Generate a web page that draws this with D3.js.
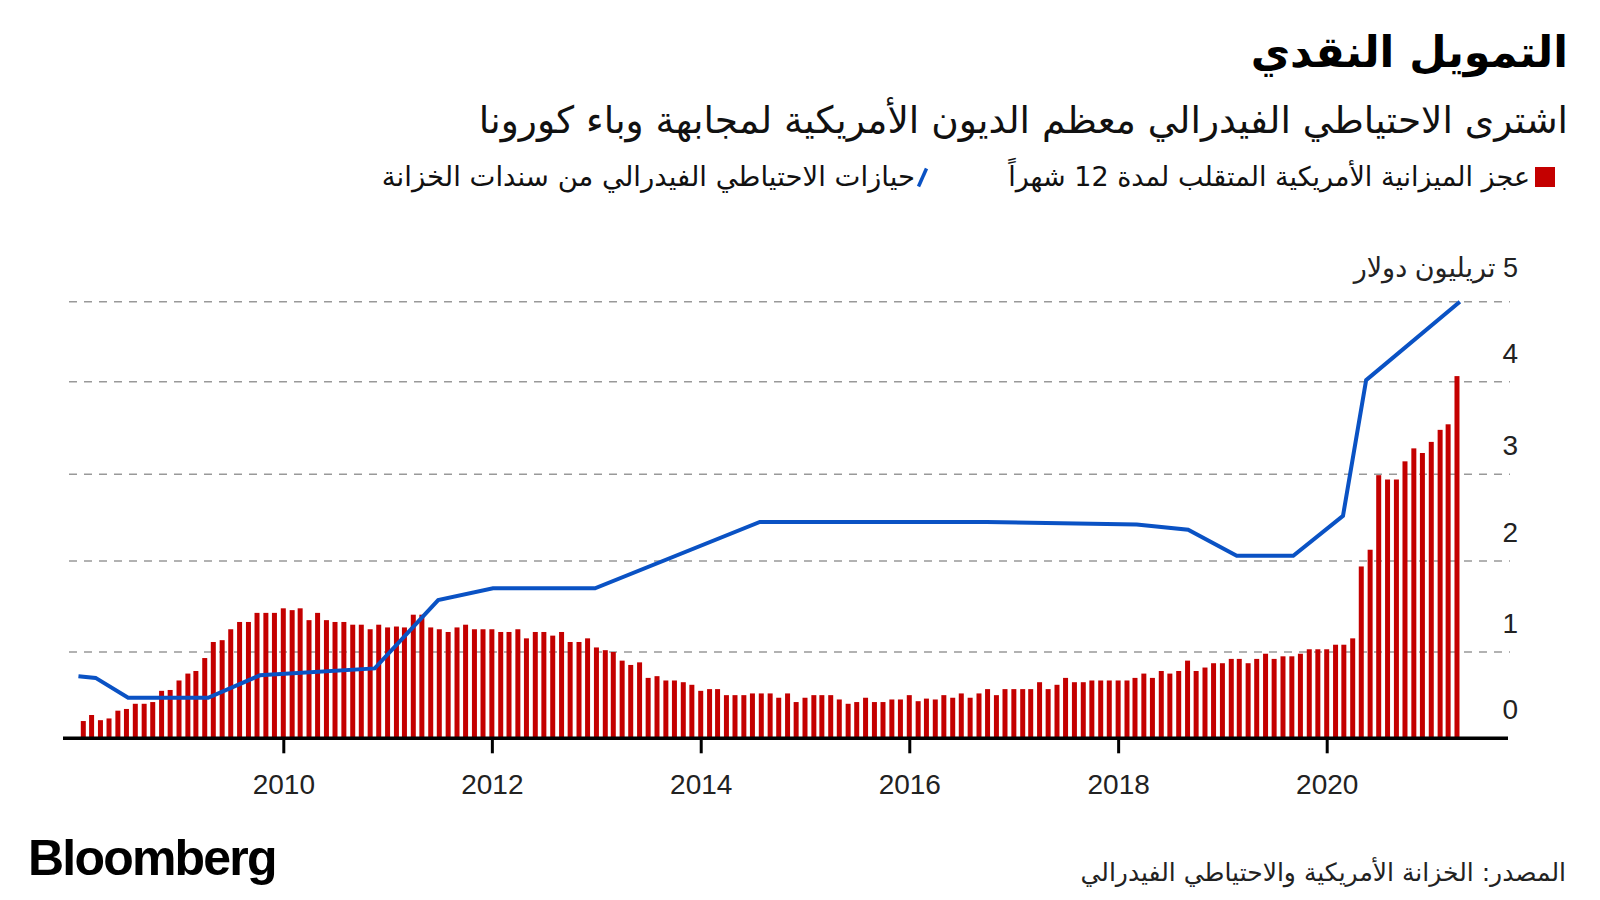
<!DOCTYPE html>
<html>
<head>
<meta charset="utf-8">
<script src="https://cdn.jsdelivr.net/npm/d3@7"></script>
<style>
  html, body { margin: 0; padding: 0; background: #fff; }
  svg { display: block; }
  .ar { font-family: "DejaVu Sans", sans-serif; direction: rtl; }
</style>
</head>
<body>
<svg id="chart" width="1600" height="900"></svg>
<script>
// ---------------- DATA ----------------
const title = "التمويل النقدي";
const subtitle = "اشترى الاحتياطي الفيدرالي معظم الديون الأمريكية لمجابهة وباء كورونا";
const legendDeficit = "عجز الميزانية الأمريكية المتقلب لمدة 12 شهراً";
const legendHoldings = "حيازات الاحتياطي الفيدرالي من سندات الخزانة";
const yUnitLabel = "5 تريليون دولار";
const sourceText = "المصدر: الخزانة الأمريكية والاحتياطي الفيدرالي";
const brand = "Bloomberg";

// Monthly bars, Jan 2008 .. Mar 2021 (trillion USD, rolling 12-month deficit)
const firstMonth = "2008-01-01";
const deficit = [
  0.20,0.27,0.21,0.23,0.32,0.34,0.40,0.40,0.42,0.55,0.56,0.67,
  0.75,0.78,0.93,1.11,1.13,1.25,1.33,1.33,1.43,1.43,1.43,1.48,
  1.46,1.48,1.35,1.43,1.35,1.33,1.33,1.30,1.30,1.25,1.30,1.27,
  1.28,1.27,1.41,1.41,1.27,1.25,1.22,
  1.27,1.30,1.25,1.25,1.25,1.22,1.22,1.25,1.15,1.22,1.22,1.18,1.22,
  1.11,1.11,1.15,1.05,1.02,1.00,0.90,0.85,0.88,0.70,0.72,0.67,0.67,
  0.65,0.62,0.55,0.57,0.57,0.50,0.50,0.50,0.52,0.52,0.52,0.47,0.52,0.42,
  0.47,0.50,0.50,0.50,0.45,0.40,0.42,0.47,0.42,0.42,0.45,0.45,0.50,0.43,
  0.46,0.45,0.50,0.47,0.52,0.47,0.52,0.57,0.50,0.57,0.57,0.57,0.57,0.65,
  0.57,0.62,0.70,0.65,0.65,0.67,0.67,0.67,0.67,0.67,0.70,0.75,0.70,0.78,
  0.75,0.78,0.90,0.78,0.82,0.87,0.87,0.92,0.92,0.87,0.92,0.98,0.92,0.95,
  0.95,0.98,
  1.03,1.03,1.03,1.08,1.08,1.15,1.94,2.13,2.99,2.94,2.94,3.14,3.28,3.23,
  3.35,3.48,3.54,4.07
];

// Fed holdings of Treasuries (trillion USD)
const holdingsDates = [
  "2008-01-15","2008-03-15","2008-07-07","2009-04-13","2009-10-11","2010-11-17",
  "2011-06-27","2012-01-05","2012-12-27","2014-07-27","2016-09-27","2018-03-07",
  "2018-09-03","2019-02-20","2019-09-06","2020-02-27","2020-05-18","2021-04-11"
];
const holdingsValues = [
  0.72,0.70,0.47,0.47,0.73,0.81,
  1.57,1.70,1.70,2.45,2.45,2.42,
  2.36,2.06,2.06,2.52,4.02,5.00
];

const yTicks = [0, 1, 2, 3, 4];
const gridValues = [1, 2, 3, 4, 5];
const xTickYears = [2010, 2012, 2014, 2016, 2018, 2020];

// ---------------- STYLE ----------------
const RED = "#c40000";
const BLUE = "#0a52c4";

// ---------------- SCALES ----------------
const svg = d3.select("#chart");
const xRef = d3.scaleUtc()
  .domain([new Date(Date.UTC(2010,0,1)), new Date(Date.UTC(2020,0,1))])
  .range([283.3, 1326.7]);
const x = d3.scaleUtc()
  .domain([xRef.invert(63), xRef.invert(1508)])
  .range([63, 1508]);
const y = d3.scaleLinear()
  .domain([0, 1, 2, 3, 4, 5])
  .range([738.3, 652, 561, 474.3, 381.7, 301.7]);

const start = new Date(firstMonth + "T00:00:00Z");
const bars = deficit.map((v, i) => ({ date: d3.utcMonth.offset(start, i + 1), value: v }));
const holdings = holdingsDates.map((d, i) => ({ date: new Date(d + "T00:00:00Z"), value: holdingsValues[i] }));

// ---------------- TITLES ----------------
svg.append("text").attr("class", "ar")
  .attr("x", 1568).attr("y", 67)
  .attr("text-anchor", "start")
  .style("font-size", "43px").style("font-weight", "bold").attr("fill", "#000")
  .text(title);

svg.append("text").attr("class", "ar")
  .attr("x", 1568).attr("y", 133)
  .attr("text-anchor", "start")
  .style("font-size", "37.5px").attr("fill", "#111")
  .text(subtitle);

// Legend
svg.append("rect").attr("x", 1535).attr("y", 167).attr("width", 20).attr("height", 20).attr("fill", RED);
svg.append("text").attr("class", "ar")
  .attr("x", 1530).attr("y", 186)
  .attr("text-anchor", "start")
  .style("font-size", "27px").attr("fill", "#111")
  .text(legendDeficit);
svg.append("line").attr("x1", 918.5).attr("y1", 186.5).attr("x2", 926.5).attr("y2", 168.5)
  .attr("stroke", BLUE).attr("stroke-width", 3.5);
svg.append("text").attr("class", "ar")
  .attr("x", 915).attr("y", 186)
  .attr("text-anchor", "start")
  .style("font-size", "27.5px").attr("fill", "#111")
  .text(legendHoldings);

// ---------------- GRID ----------------
svg.append("g").selectAll("line").data(gridValues).join("line")
  .attr("x1", 69).attr("x2", 1510)
  .attr("y1", d => y(d)).attr("y2", d => y(d))
  .attr("stroke", "#999").attr("stroke-width", 1.5).attr("stroke-dasharray", "8,7");

// Y labels
svg.append("g").selectAll("text").data(yTicks).join("text")
  .attr("x", 1518).attr("y", d => y(d) - 19)
  .attr("text-anchor", "end")
  .style("font-family", "'Liberation Sans', Arial, sans-serif")
  .style("font-size", "28px").attr("fill", "#222")
  .text(d => d);
svg.append("text").attr("class", "ar")
  .attr("x", 1518).attr("y", y(5) - 25)
  .attr("text-anchor", "start")
  .style("font-family", "'Liberation Sans', 'DejaVu Sans', sans-serif")
  .style("font-size", "27px").attr("fill", "#222")
  .text(yUnitLabel);

// ---------------- BARS ----------------
const bw = 5;
svg.append("g").selectAll("rect").data(bars).join("rect")
  .attr("x", d => x(d.date) - bw / 2)
  .attr("width", bw)
  .attr("y", d => y(d.value))
  .attr("height", d => y(0) - y(d.value))
  .attr("fill", RED);

// ---------------- LINE ----------------
const line = d3.line().x(d => x(d.date)).y(d => y(d.value));
svg.append("path").datum(holdings)
  .attr("d", line)
  .attr("fill", "none").attr("stroke", BLUE).attr("stroke-width", 4)
  .attr("stroke-linejoin", "miter");

// ---------------- X AXIS ----------------
const xAxis = d3.axisBottom(x)
  .tickValues(xTickYears.map(yr => new Date(Date.UTC(yr, 0, 1))))
  .tickFormat(d3.utcFormat("%Y"))
  .tickSize(15).tickPadding(21);
const gx = svg.append("g").attr("transform", `translate(0,${y(0)})`).call(xAxis);
gx.select(".domain").attr("stroke", "#000").attr("stroke-width", 3.5).attr("d", "M63,0H1508");
gx.selectAll(".tick line").attr("stroke", "#000").attr("stroke-width", 3);
gx.selectAll(".tick text")
  .style("font-family", "'Liberation Sans', Arial, sans-serif")
  .style("font-size", "28px").attr("fill", "#222");

// ---------------- FOOTER ----------------
svg.append("text")
  .attr("x", 28).attr("y", 875)
  .style("font-family", "'Liberation Sans', Arial, sans-serif")
  .style("font-size", "50px").style("font-weight", "bold").style("letter-spacing", "-1.8px")
  .attr("fill", "#000")
  .text(brand);
svg.append("text").attr("class", "ar")
  .attr("x", 1566).attr("y", 881)
  .attr("text-anchor", "start")
  .style("font-size", "25px").attr("fill", "#222")
  .text(sourceText);
</script>
</body>
</html>
